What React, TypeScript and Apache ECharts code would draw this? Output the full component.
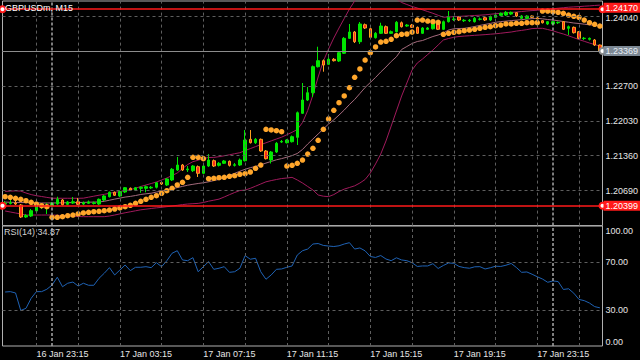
import React, { useEffect, useRef } from 'react';
import * as echarts from 'echarts';

// ---- time axis (M15 bars) ----
const START = Date.UTC(2021, 0, 16, 21, 45);
const BAR_COUNT = 115;
const categories: string[] = Array.from({ length: BAR_COUNT }, (_, i) => {
  const d = new Date(START + i * 15 * 60000);
  const hh = String(d.getUTCHours()).padStart(2, '0');
  const mm = String(d.getUTCMinutes()).padStart(2, '0');
  return `${d.getUTCDate()} Jan ${hh}:${mm}`;
});
const tickLabels = ['16 Jan 23:15', '17 Jan 03:15', '17 Jan 07:15', '17 Jan 11:15', '17 Jan 15:15', '17 Jan 19:15', '17 Jan 23:15'];
const gridTimes = ['16 Jan 23:15', '17 Jan 01:15', '17 Jan 03:15', '17 Jan 05:15', '17 Jan 07:15', '17 Jan 09:15', '17 Jan 11:15', '17 Jan 13:15', '17 Jan 15:15', '17 Jan 17:15', '17 Jan 19:15', '17 Jan 21:15', '17 Jan 23:15', '18 Jan 01:15'];
const daySeparators = ['17 Jan 00:00', '18 Jan 00:00'];

// ---- price scale ----
const priceTicks = [1.2404, 1.2337, 1.227, 1.2203, 1.2136, 1.2069];
const priceMin = 1.2002;
const priceMax = 1.24328;
const redLevels = [1.2417, 1.20399];
const bidPrice = 1.23369;
const rsiTicks = [0, 30, 70, 100];
const rsiLevels = [70, 30];

// ---- OHLC ----
const opens = [
  1.20434, 1.20444, 1.20453, 1.20415, 1.20185, 1.20204, 1.203, 1.20386, 1.20396, 1.20402,
  1.20434, 1.20511, 1.20428, 1.20453, 1.20478, 1.20434, 1.20448, 1.20444, 1.20434, 1.20511,
  1.20574, 1.20659, 1.20588, 1.20664, 1.20735, 1.20703, 1.20735, 1.20735, 1.20743, 1.20755,
  1.20847, 1.20799, 1.20895, 1.21086, 1.21182, 1.2109, 1.21073, 1.2115, 1.21023, 1.21163,
  1.21265, 1.21176, 1.21215, 1.21253, 1.21176, 1.21182, 1.21265, 1.21675, 1.2161, 1.21675,
  1.21451, 1.21278, 1.21432, 1.21623, 1.2161, 1.21629, 1.21713, 1.22174, 1.22429, 1.22569,
  1.23068, 1.23183, 1.23114, 1.2321, 1.23177, 1.23325, 1.23612, 1.23733, 1.23547, 1.23873,
  1.23796, 1.23624, 1.23708, 1.23835, 1.23708, 1.23739, 1.23911, 1.23848, 1.23867, 1.23823,
  1.23708, 1.23785, 1.23796, 1.23911, 1.23785, 1.23931, 1.23973, 1.24021, 1.2395, 1.2395,
  1.23931, 1.23977, 1.24007, 1.23963, 1.24015, 1.24053, 1.24059, 1.24078, 1.24103, 1.23996,
  1.23996, 1.2404, 1.24002, 1.2395, 1.23887, 1.23887, 1.23911, 1.23931, 1.23804, 1.23823,
  1.23739, 1.23608, 1.23593, 1.2358, 1.23484,
];
const closes = [
  1.20453, 1.20459, 1.20434, 1.20185, 1.20214, 1.20306, 1.20382, 1.204, 1.20405, 1.20448,
  1.20524, 1.20421, 1.20473, 1.20478, 1.20428, 1.20459, 1.20473, 1.20457, 1.20524, 1.20588,
  1.20659, 1.20601, 1.2067, 1.20747, 1.20703, 1.20747, 1.20755, 1.20766, 1.20755, 1.20843,
  1.20818, 1.20914, 1.211, 1.21182, 1.21086, 1.21106, 1.21163, 1.21023, 1.21163, 1.21278,
  1.21163, 1.21215, 1.21259, 1.21176, 1.21188, 1.21278, 1.21662, 1.2161, 1.21675, 1.21451,
  1.21303, 1.21432, 1.21598, 1.21633, 1.21662, 1.21725, 1.22185, 1.22429, 1.22569, 1.23068,
  1.23183, 1.231, 1.2321, 1.23183, 1.23336, 1.23612, 1.23733, 1.23547, 1.23887, 1.2381,
  1.23631, 1.23708, 1.23848, 1.23708, 1.23739, 1.23919, 1.23835, 1.23867, 1.23823, 1.23708,
  1.2381, 1.2381, 1.23911, 1.23785, 1.23931, 1.24015, 1.23982, 1.23963, 1.23959, 1.23959,
  1.23996, 1.23982, 1.23963, 1.24027, 1.24059, 1.24092, 1.24111, 1.24111, 1.2404, 1.2404,
  1.2404, 1.24015, 1.23982, 1.23911, 1.23931, 1.23931, 1.23919, 1.23785, 1.23835, 1.2372,
  1.23612, 1.23614, 1.23612, 1.23484, 1.23369,
];
const lows = [
  1.20415, 1.20424, 1.20415, 1.20166, 1.20166, 1.20185, 1.20267, 1.20338, 1.20242, 1.20386,
  1.20415, 1.20405, 1.20415, 1.20434, 1.20415, 1.20415, 1.20434, 1.20424, 1.20415, 1.20492,
  1.20559, 1.20588, 1.20568, 1.20645, 1.20683, 1.20683, 1.20651, 1.20659, 1.20722, 1.20732,
  1.20799, 1.20779, 1.20875, 1.21067, 1.21067, 1.21048, 1.21048, 1.20952, 1.2101, 1.21144,
  1.21144, 1.21153, 1.21202, 1.21153, 1.21153, 1.21163, 1.21249, 1.21595, 1.21585, 1.21432,
  1.21288, 1.21211, 1.21412, 1.21604, 1.21595, 1.21614, 1.21566, 1.2216, 1.2241, 1.22486,
  1.23052, 1.22972, 1.231, 1.23167, 1.23158, 1.23311, 1.23599, 1.23522, 1.23503, 1.23791,
  1.23618, 1.23608, 1.23695, 1.23695, 1.23695, 1.23724, 1.23819, 1.23829, 1.2381, 1.23695,
  1.23695, 1.23771, 1.23781, 1.23771, 1.23771, 1.23915, 1.23944, 1.23944, 1.23925, 1.23925,
  1.23915, 1.23954, 1.23944, 1.23944, 1.24002, 1.2404, 1.2404, 1.24059, 1.24021, 1.23982,
  1.23982, 1.24002, 1.23963, 1.23896, 1.23867, 1.23867, 1.23887, 1.23771, 1.23676, 1.23704,
  1.23599, 1.2358, 1.2357, 1.23465, 1.2335,
];
const highs = [
  1.20492, 1.20511, 1.20492, 1.20434, 1.20242, 1.20338, 1.20415, 1.20453, 1.20453, 1.20473,
  1.20574, 1.2053, 1.20492, 1.20568, 1.20549, 1.20482, 1.20501, 1.20482, 1.2054, 1.20607,
  1.20674, 1.20674, 1.20693, 1.2076, 1.20751, 1.2076, 1.2077, 1.20789, 1.20779, 1.20856,
  1.20866, 1.20933, 1.21125, 1.21336, 1.21202, 1.21163, 1.21182, 1.21173, 1.21182, 1.21393,
  1.21288, 1.2124, 1.21278, 1.21269, 1.21221, 1.21307, 1.21853, 1.21853, 1.217, 1.2169,
  1.2147, 1.21451, 1.21623, 1.21662, 1.21681, 1.21748, 1.22208, 1.22755, 1.22678, 1.23091,
  1.23451, 1.23206, 1.23311, 1.23234, 1.23359, 1.23637, 1.23887, 1.23752, 1.23925, 1.23896,
  1.23819, 1.23733, 1.23911, 1.23858, 1.23762, 1.23944, 1.23935, 1.23887, 1.23887, 1.23839,
  1.23829, 1.23829, 1.23935, 1.23935, 1.23954, 1.24136, 1.24021, 1.2404, 1.23982, 1.23982,
  1.24021, 1.24011, 1.24021, 1.2405, 1.24078, 1.24107, 1.24136, 1.24126, 1.24117, 1.24059,
  1.24059, 1.2405, 1.24021, 1.23963, 1.23944, 1.23944, 1.23935, 1.23944, 1.23858, 1.23839,
  1.23752, 1.23637, 1.23628, 1.23599, 1.23493,
];

// ---- Bollinger bands ----
const bbUpper = [
  1.20676, 1.20682, 1.20686, 1.20682, 1.20645, 1.20615, 1.20593, 1.20578, 1.20561, 1.20546,
  1.20544, 1.20544, 1.20544, 1.20544, 1.20544, 1.20546, 1.20565, 1.20584, 1.20603, 1.2062,
  1.2064, 1.20657, 1.20674, 1.20691, 1.20709, 1.20737, 1.2077, 1.20799, 1.20827, 1.20856,
  1.20895, 1.20933, 1.20981, 1.21029, 1.21115, 1.21192, 1.21246, 1.21274, 1.21307, 1.21326,
  1.21328, 1.21342, 1.21359, 1.21378, 1.21399, 1.21418, 1.21459, 1.21497, 1.21535, 1.21574,
  1.21608, 1.21645, 1.21681, 1.21716, 1.21762, 1.2181, 1.21863, 1.21997, 1.22228, 1.22525,
  1.2287, 1.23177, 1.23407, 1.23618, 1.2381, 1.23992, 1.24174, 1.24328, 1.24462, 1.2452,
  1.24577, 1.24587, 1.24577, 1.2451, 1.24443, 1.24366, 1.24299, 1.24261, 1.24222, 1.24194,
  1.24159, 1.24126, 1.24092, 1.24054, 1.24017, 1.24021, 1.24027, 1.24032, 1.24038, 1.24044,
  1.2405, 1.24056, 1.24063, 1.24073, 1.24084, 1.24092, 1.241, 1.24109, 1.24117, 1.24126,
  1.24136, 1.24144, 1.24151, 1.24159, 1.24169, 1.24178, 1.2419, 1.24199, 1.24209, 1.24215,
  1.2422, 1.24228, 1.24234, 1.24242, 1.24249,
];
const bbMiddle = [
  1.20471, 1.20467, 1.20465, 1.20463, 1.20461, 1.20457, 1.20455, 1.20454, 1.20454, 1.20454,
  1.20455, 1.20457, 1.20459, 1.20461, 1.20463, 1.20465, 1.20469, 1.20471, 1.20473, 1.20486,
  1.20507, 1.20528, 1.20547, 1.20567, 1.2058, 1.20597, 1.20617, 1.2063, 1.20641, 1.20663,
  1.20682, 1.20703, 1.20726, 1.20749, 1.20772, 1.20795, 1.20812, 1.20828, 1.20841, 1.2086,
  1.20883, 1.20906, 1.20946, 1.20985, 1.21023, 1.21063, 1.211, 1.21131, 1.21155, 1.21186,
  1.21219, 1.21251, 1.21282, 1.21305, 1.21332, 1.21363, 1.21403, 1.2148, 1.21585, 1.21681,
  1.21777, 1.21873, 1.21969, 1.22049, 1.22141, 1.22237, 1.22343, 1.22439, 1.22554, 1.22669,
  1.22765, 1.22861, 1.22966, 1.23062, 1.23167, 1.23258, 1.23398, 1.23455, 1.23513, 1.23551,
  1.2357, 1.23609, 1.23647, 1.23676, 1.23714, 1.23772, 1.23795, 1.238, 1.23804, 1.2382,
  1.23839, 1.2386, 1.23879, 1.23898, 1.23919, 1.23933, 1.23942, 1.23952, 1.23961, 1.23971,
  1.23981, 1.2399, 1.23996, 1.23986, 1.23973, 1.23963, 1.2395, 1.23935, 1.23921, 1.23906,
  1.23896, 1.23883, 1.23871, 1.2386, 1.23848,
];
const bbLower = [
  1.203, 1.20281, 1.20262, 1.20243, 1.20223, 1.20223, 1.20223, 1.20223, 1.20223, 1.20223,
  1.20218, 1.20212, 1.20206, 1.202, 1.20195, 1.20191, 1.20191, 1.20191, 1.20191, 1.20191,
  1.20204, 1.20223, 1.20244, 1.20266, 1.20285, 1.20304, 1.20323, 1.20335, 1.20348, 1.2036,
  1.20371, 1.20383, 1.20396, 1.20409, 1.20423, 1.20434, 1.2044, 1.20446, 1.20463, 1.20488,
  1.20507, 1.20528, 1.20569, 1.20613, 1.20655, 1.20693, 1.20701, 1.20735, 1.20776, 1.20818,
  1.2086, 1.20883, 1.20904, 1.20923, 1.20933, 1.20945, 1.20895, 1.20837, 1.2077, 1.20703,
  1.20607, 1.20584, 1.20576, 1.20615, 1.20674, 1.2072, 1.20751, 1.20783, 1.20837, 1.20904,
  1.21029, 1.21202, 1.21393, 1.21643, 1.2193, 1.22218, 1.22506, 1.22755, 1.23004, 1.23139,
  1.23215, 1.23302, 1.23388, 1.23484, 1.2358, 1.23609, 1.23632, 1.23647, 1.23655, 1.23662,
  1.2367, 1.23676, 1.23683, 1.23691, 1.23699, 1.2371, 1.23722, 1.23733, 1.23751, 1.23764,
  1.23779, 1.23799, 1.23804, 1.23804, 1.23781, 1.23756, 1.23724, 1.23695, 1.2366, 1.23624,
  1.23588, 1.23555, 1.23522, 1.23492, 1.23465,
];

// ---- Parabolic SAR ----
const sar = [
  1.20574, 1.20563, 1.20544, 1.20524, 1.20498, 1.20467, 1.20434, 1.20402, 1.20383, 1.20179,
  1.20179, 1.20191, 1.2021, 1.20223, 1.20243, 1.20262, 1.20275, 1.20287, 1.20294, 1.20306,
  1.20319, 1.20338, 1.20358, 1.20383, 1.20409, 1.20448, 1.20486, 1.20524, 1.20563, 1.20594,
  1.2064, 1.20689, 1.20735, 1.20799, 1.20851, 1.20946, 1.2133, 1.2133, 1.21303, 1.2092,
  1.20927, 1.20939, 1.20946, 1.20966, 1.20977, 1.21004, 1.21015, 1.21048, 1.21119, 1.21182,
  1.21867, 1.21854, 1.2184, 1.21821, 1.21163, 1.21177, 1.21215, 1.21278, 1.21393, 1.21503,
  1.21656, 1.21867, 1.22065, 1.22231, 1.22377, 1.22506, 1.22665, 1.22864, 1.23024, 1.23196,
  1.23336, 1.23446, 1.23541, 1.23555, 1.23593, 1.23662, 1.23689, 1.23695, 1.23733, 1.23963,
  1.23963, 1.23944, 1.23931, 1.23919, 1.23689, 1.23708, 1.23727, 1.23739, 1.23758, 1.23771,
  1.23785, 1.23804, 1.23823, 1.23835, 1.23854, 1.23867, 1.23887, 1.23887, 1.239, 1.239,
  1.23912, 1.23912, 1.23912, 1.24136, 1.24136, 1.24123, 1.24111, 1.24092, 1.24059, 1.24034,
  1.24015, 1.23963, 1.23912, 1.23881, 1.23848,
];

// ---- RSI(14) ----
const rsi = [
  45, 45.3, 44.2, 29.6, 31.4, 39.8, 45.3, 45.3, 47.3, 50.8,
  57.3, 49.4, 52.3, 53.3, 50, 52.3, 50.6, 50.6, 56.4, 60.6,
  65.3, 59.2, 63.3, 67.5, 62.8, 65.6, 65.6, 66.1, 65.3, 69.4,
  66.1, 71.1, 77.3, 79.4, 71.7, 71.1, 73.6, 61.9, 66.1, 70.3,
  63.9, 64.8, 66.1, 61.4, 61.9, 64.8, 75.3, 72.3, 73.1, 61.9,
  55.6, 59.2, 63.9, 64.2, 65.6, 66.7, 75.8, 79.4, 80.8, 85,
  85.4, 83.8, 83.3, 82.9, 83.5, 85, 86.1, 80.8, 81.7, 79.3,
  74.6, 73.8, 75.4, 72.5, 71.1, 73.5, 71.7, 71.1, 69.4, 66.3,
  66.7, 66.7, 68.6, 64.6, 67.1, 69.2, 68.9, 66.3, 65.3, 64.8,
  66, 66.1, 64.2, 65.2, 66.5, 66.3, 67.3, 68.8, 65.4, 61.4,
  61.7, 59.8, 57.7, 55.8, 53.1, 54.2, 53.7, 47.1, 47.7, 44,
  38.8, 37.8, 35.8, 32.8, 31.8,
];

const FONT = '"Liberation Sans", Arial, sans-serif';
const GRID_COLOR = '#5e5e5e';
const TEXT_COLOR = '#e6e6e6';

export default function App() {
  const ref = useRef<HTMLDivElement>(null);

  useEffect(() => {
    if (!ref.current) return;
    const chart = echarts.init(ref.current, undefined, { renderer: 'svg' });

    const vLines = [
      ...gridTimes.map((t) => ({ xAxis: t })),
      ...daySeparators.map((t) => ({
        xAxis: t,
        lineStyle: { color: '#a6a6a6', width: 1.5, type: [3, 2] },
      })),
    ];

    const candleData = opens.map((o, i) => [o, closes[i], lows[i], highs[i]]);

    const option: any = {
      animation: false,
      backgroundColor: '#000000',
      textStyle: { fontFamily: FONT },
      grid: [
        { left: 2.5, top: 1, width: 600, height: 224.6, show: true, borderColor: '#b0b0b0', borderWidth: 1 },
        { left: 2.5, top: 226, width: 600, height: 120, show: true, borderColor: '#b0b0b0', borderWidth: 1 },
      ],
      xAxis: [
        { type: 'category', gridIndex: 0, data: categories, boundaryGap: true, show: false },
        {
          type: 'category',
          gridIndex: 1,
          data: categories,
          boundaryGap: true,
          axisLine: { show: false },
          axisTick: { show: false },
          splitLine: { show: false },
          axisLabel: {
            interval: (_i: number, v: string) => tickLabels.includes(v),
            align: 'left',
            color: TEXT_COLOR,
            fontSize: 9,
            fontFamily: FONT,
            margin: 3,
          },
        },
      ],
      yAxis: [
        { type: 'value', gridIndex: 0, min: priceMin, max: priceMax, show: false },
        {
          type: 'value',
          gridIndex: 1,
          min: 0,
          max: 100,
          interval: 10,
          position: 'right',
          axisLine: { show: false },
          axisTick: { show: false },
          splitLine: { show: false },
          axisLabel: {
            color: TEXT_COLOR,
            fontSize: 9,
            fontFamily: FONT,
            margin: 3,
            verticalAlignMaxLabel: 'top',
            verticalAlignMinLabel: 'bottom',
            formatter: (v: number) => (rsiTicks.some((t) => Math.abs(t - v) < 1e-6) ? v.toFixed(2) : ''),
          },
        },
      ],
      graphic: [
        { type: 'text', left: 5, top: 3, z: 100, style: { text: 'GBPUSDm, M15', fill: '#ffffff', font: `9px ${FONT}` } },
        { type: 'text', left: 4, top: 227, z: 100, style: { text: 'RSI(14) 34.87', fill: '#d0d0d0', font: `9px ${FONT}` } },
      ],
      series: [
        {
          name: 'grid',
          type: 'line',
          xAxisIndex: 0,
          yAxisIndex: 0,
          data: [],
          z: 1,
          markLine: {
            silent: true,
            symbol: 'none',
            animation: false,
            precision: 5,
            lineStyle: { color: GRID_COLOR, type: [3, 3], width: 1 },
            label: { show: false },
            data: [
              ...vLines,
              ...priceTicks.map((v, i) => ({
                yAxis: v,
                label: {
                  show: v !== 1.2337,
                  position: 'end',
                  formatter: () => v.toFixed(5),
                  color: TEXT_COLOR,
                  fontSize: 9,
                  lineHeight: 9,
                  fontFamily: FONT,
                  distance: 3,
                  offset: i === 0 ? [0, 1.5] : [0, 0],
                },
              })),
            ],
          },
        },
        {
          name: 'BB upper',
          type: 'line',
          data: bbUpper,
          symbol: 'none',
          z: 2,
          lineStyle: { color: '#a01a5c', width: 1 },
        },
        {
          name: 'BB middle',
          type: 'line',
          data: bbMiddle,
          symbol: 'none',
          z: 2,
          lineStyle: { color: '#a46a7c', width: 1 },
        },
        {
          name: 'BB lower',
          type: 'line',
          data: bbLower,
          symbol: 'none',
          z: 2,
          lineStyle: { color: '#a01a5c', width: 1 },
        },
        {
          name: 'GBPUSDm',
          type: 'candlestick',
          data: candleData,
          barWidth: 3,
          z: 3,
          itemStyle: {
            color: '#00e600',
            color0: '#ff2a1a',
            borderColor: '#00e600',
            borderColor0: '#ffa020',
            borderWidth: 1,
          },
        },
        {
          name: 'SAR',
          type: 'scatter',
          data: sar,
          symbol: 'circle',
          symbolSize: 5.5,
          z: 4,
          itemStyle: { color: '#ffa62b', opacity: 1 },
        },
        {
          name: 'levels',
          type: 'line',
          data: [],
          z: 5,
          markLine: {
            silent: true,
            animation: false,
            precision: 5,
            symbol: ['emptyCircle', 'emptyCircle'],
            symbolSize: 6,
            data: [
              ...redLevels.map((v, i) => ({
                yAxis: v,
                lineStyle: { color: '#ff1a1a', width: 1.5, type: 'solid' },
                label: {
                  show: true,
                  position: 'end',
                  formatter: () => v.toFixed(5),
                  color: '#ffffff',
                  backgroundColor: '#ff1a1a',
                  padding: [1, 4, 0, 2],
                  fontSize: 9,
                  lineHeight: 9,
                  fontFamily: FONT,
                  distance: 1,
                  offset: i === 0 ? [0, -1.5] : [0, 0],
                },
              })),
              {
                yAxis: bidPrice,
                symbol: 'none',
                lineStyle: { color: '#8c8c8c', width: 1, type: 'solid' },
                label: {
                  show: true,
                  position: 'end',
                  formatter: () => bidPrice.toFixed(5),
                  color: '#e8eef4',
                  backgroundColor: '#7c8894',
                  padding: [1, 4, 0, 2],
                  fontSize: 9,
                  lineHeight: 9,
                  fontFamily: FONT,
                  distance: 1,
                },
              },
            ],
          },
        },
        {
          name: 'RSI(14)',
          type: 'line',
          xAxisIndex: 1,
          yAxisIndex: 1,
          data: rsi,
          symbol: 'none',
          z: 3,
          lineStyle: { color: '#1f62b4', width: 1 },
          markLine: {
            silent: true,
            symbol: 'none',
            animation: false,
            precision: 2,
            lineStyle: { color: GRID_COLOR, type: [3, 3], width: 1 },
            label: { show: false },
            data: [...vLines, ...rsiLevels.map((v) => ({ yAxis: v }))],
          },
        },
      ],
    };

    chart.setOption(option);
    return () => chart.dispose();
  }, []);

  return (
    <div
      ref={ref}
      style={{ position: 'fixed', left: 0, top: 0, width: 640, height: 360, background: '#000' }}
    />
  );
}
